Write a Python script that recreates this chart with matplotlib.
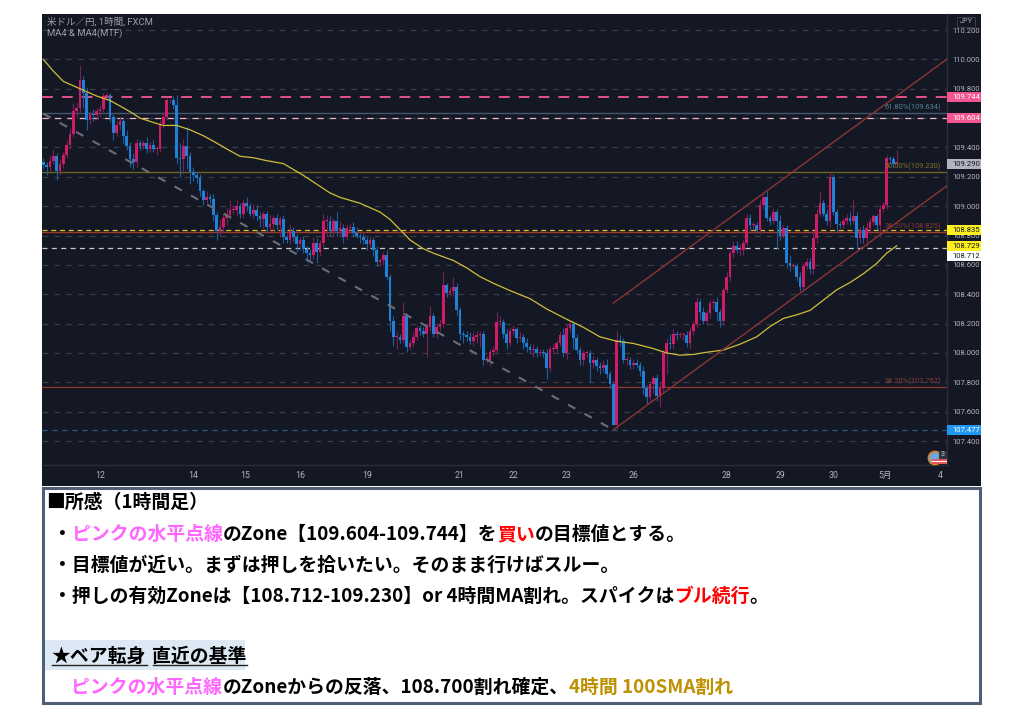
import matplotlib
matplotlib.use("Agg")
import matplotlib.pyplot as plt
from matplotlib.patches import Rectangle, Circle
from matplotlib.ticker import FixedLocator, FixedFormatter

plt.rcParams['font.family'] = ['Roboto', 'Noto Sans CJK JP', 'DejaVu Sans']

first_open = 109.30
closes = [
 109.28,109.27,109.31,109.34,109.24,109.29,109.35,109.42,109.49,109.65,
 109.67,109.86,109.77,109.59,109.63,109.62,109.65,109.66,109.75,109.76,
 109.61,109.50,109.55,109.58,109.48,109.41,109.32,109.30,109.43,109.41,
 109.43,109.39,109.42,109.39,109.39,109.56,109.61,109.72,109.72,109.69,
 109.33,109.32,109.41,109.34,109.23,109.21,109.19,109.10,109.04,109.06,
 109.05,108.94,108.83,108.86,108.92,108.94,108.975,108.975,109.00,108.95,
 109.02,109.00,108.95,108.975,108.93,108.91,108.95,108.86,108.88,108.92,
 108.87,108.91,108.79,108.77,108.83,108.79,108.74,108.77,108.71,108.68,
 108.67,108.75,108.69,108.75,108.90,108.90,108.83,108.90,108.83,108.85,
 108.79,108.85,108.86,108.82,108.80,108.79,108.77,108.74,108.77,108.70,
 108.62,108.63,108.67,108.52,108.22,108.11,108.11,108.09,108.25,108.04,
 108.07,108.11,108.17,108.15,108.13,108.18,108.25,108.13,108.18,108.20,
 108.46,108.41,108.42,108.45,108.29,108.13,108.12,108.11,108.08,108.11,
 108.12,108.13,107.95,107.95,108.01,108.02,108.21,108.21,108.13,108.07,
 108.15,108.16,108.10,108.11,108.07,108.04,108.02,108.03,108.00,108.01,
 108.00,107.90,108.03,108.03,108.07,108.12,108.00,108.17,108.20,108.10,
 108.02,107.95,108.00,108.00,107.93,107.95,107.91,107.90,107.92,107.86,
 107.79,107.51,108.09,108.08,107.95,107.95,107.92,107.93,107.92,107.88,
 107.76,107.70,107.79,107.83,107.71,107.76,108.00,108.07,108.06,108.13,
 108.12,108.12,108.12,108.07,108.15,108.20,108.35,108.28,108.22,108.27,
 108.34,108.35,108.28,108.22,108.43,108.52,108.68,108.73,108.70,108.70,
 108.75,108.92,108.87,108.87,108.84,109.01,109.06,108.92,108.90,108.96,
 108.90,108.80,108.85,108.61,108.59,108.59,108.52,108.45,108.59,108.62,
 108.57,108.78,108.95,109.02,108.95,108.90,109.20,108.96,108.88,108.87,
 108.90,108.92,108.90,108.93,108.78,108.84,108.78,108.85,108.89,108.93,
 108.87,108.98,109.01,109.33,109.32,109.29,109.30]
upper_wick_pips = [
 3,2,4,5,2,3,2,3,4,5, 4,10,3,4,2,3,2,3,2,1, 1,2,3,3,2,4,3,4,3,2,
 2,4,2,3,2,3,3,2,1,3, 7,10,5,13,3,4,2,3,2,4, 2,3,2,5,3,5,7,3,4,2,
 3,4,2,4,3,3,2,2,6,2, 3,2,3,2,4,3,2,2,3,2, 3,4,3,2,5,4,3,2,6,5,
 3,3,2,3,4,2,3,2,3,2, 3,2,2,3,2,3,4,2,10,2, 2,3,2,2,3,2,7,2,2,3,
 9,2,3,7,3,2,2,3,3,3, 3,2,2,3,2,3,7,4,2,3, 3,3,2,3,2,3,2,3,2,2,
 2,3,2,3,2,3,5,3,2,2, 3,2,2,2,2,3,2,3,3,4, 2,2,6,3,2,3,2,3,3,2,
 3,2,2,2,3,4,2,3,6,3, 2,2,2,3,3,2,3,2,3,2, 2,2,3,2,2,3,2,3,3,4,
 2,3,3,2,2,3,2,4,2,3, 2,4,2,2,6,2,2,3,2,3, 3,5,3,8,2,3,3,2,2,2,
 2,3,5,12,3,2,3,4,3,2, 2,3,2,2,1,2,8]
lower_wick_pips = [
 3,6,3,2,6,3,3,2,3,2, 4,3,10,7,3,4,3,4,2,3, 4,5,2,3,5,3,5,5,3,3,
 2,3,2,2,4,2,3,2,2,3, 4,12,10,9,8,4,3,3,3,2, 3,4,6,3,4,5,3,3,4,3,
 3,3,2,3,3,5,6,4,3,5, 3,8,4,2,3,3,5,4,3,6, 5,3,8,3,3,10,3,4,3,3,
 4,2,3,3,2,4,3,4,3,4, 3,3,3,2,7,6,8,2,2,3, 2,3,2,3,2,16,3,2,3,3,
 2,3,2,3,3,4,5,3,2,3, 4,8,3,2,4,3,2,3,3,4, 2,3,3,2,4,3,2,5,3,2,
 3,8,3,2,3,2,3,5,3,7, 2,3,3,3,13,3,3,4,3,3, 3,0,3,3,2,3,3,3,2,4,
 4,5,3,6,4,8,3,14,3,3, 3,2,3,3,4,3,3,5,2,3, 3,4,6,4,3,2,3,3,2,4,
 3,2,3,3,2,3,3,2,3,2, 19,3,2,3,3,2,3,3,2,2, 3,3,3,2,2,3,4,2,6,2,
 2,2,3,2,7,3,3,5,4,2, 3,8,2,3,3,3,2]

ma_bars = [0,3,6,9,12,16,20,24,27,29,33,36,40,44,48,52,55,59,63,67,72,75,78,82,86,89,
           95,101,104,107,110,114,117,123,127,131,135,140,146,151,157,162,167,172,177,
           183,187,191,195,199,204,209,214,218,222,226,230,234,238,242,246,250,253,256]
ma_values = [110.00,109.92,109.85,109.82,109.79,109.75,109.72,109.67,109.63,109.60,109.57,109.55,
             109.55,109.52,109.48,109.43,109.39,109.34,109.33,109.31,109.29,109.25,109.21,109.15,
             109.09,109.06,109.02,108.96,108.91,108.84,108.77,108.71,108.68,108.63,108.58,108.52,
             108.475,108.425,108.37,108.30,108.23,108.175,108.11,108.08,108.065,
             108.03,108.00,107.985,107.99,108.005,108.02,108.06,108.11,108.18,108.235,108.26,
             108.29,108.36,108.43,108.48,108.54,108.61,108.68,108.73]

price_ticks = [110.2,110.0,109.8,109.6,109.4,109.2,109.0,108.8,108.6,108.4,108.2,108.0,107.8,107.6,107.4]
time_ticks = [17,45,60.5,77,97,125,141,157,177,205,221,237,252.5,269]
time_labels = ['12','14','15','16','19','21','22','23','26','28','29','30','5月','4']

BG = '#141824'
UP, DOWN = '#cf1b68', '#1f80d8'
UPW, DOWNW = '#7b1f57', '#1c5f9c'

fig = plt.figure(figsize=(10.24, 7.24), dpi=100, facecolor='white')

under = fig.add_axes([0, 0, 1, 1], zorder=0)
under.set_xlim(0, 1024); under.set_ylim(724, 0); under.axis('off')
under.add_patch(Rectangle((42, 14), 939, 472, fc=BG, ec='none'))

ax = fig.add_axes([42/1024, 1-465/724, 905/1024, 451/724], zorder=1)
ax.set_facecolor('none')
ax.set_xlim(-0.4, 271.1)
ax.set_ylim(107.237, 110.309)
for s in ('top', 'left'):
    ax.spines[s].set_visible(False)
for s in ('right', 'bottom'):
    ax.spines[s].set_color('#2a2e39')
    ax.spines[s].set_linewidth(1)
ax.yaxis.tick_right()
ax.yaxis.set_major_locator(FixedLocator(price_ticks))
ax.yaxis.set_major_formatter(FixedFormatter(['%.3f' % p for p in price_ticks]))
ax.xaxis.set_major_locator(FixedLocator(time_ticks))
ax.xaxis.set_major_formatter(FixedFormatter(time_labels))
ax.tick_params(axis='y', length=0, pad=4, labelsize=5.5, labelcolor='#b2b5be')
ax.tick_params(axis='x', length=0, pad=4, labelsize=6.3, labelcolor='#b2b5be')
ax.grid(axis='y', color='#3b3e49', lw=0.9, ls=(0, (4.5, 5)))
ax.set_axisbelow(True)

# fib and level lines
ax.axhline(109.634, color='#47566a', lw=1, zorder=2)
ax.axhline(109.230, color='#6d6324', lw=1, zorder=2)
ax.axhline(108.825, color='#9b3b30', lw=1, zorder=2)
ax.axhline(107.767, color='#8f3a30', lw=0.9, zorder=2)
ax.axhline(109.744, color='#f4568f', lw=1.3, ls=(0, (6, 5)), zorder=2)
ax.axhline(109.604, color='#f3b4cc', lw=0.9, ls=(0, (5, 5)), zorder=2)
ax.axhline(108.835, color='#e2c02c', lw=0.9, ls=(0, (4, 3)), zorder=2)
ax.axhline(108.712, color='#c9cbd0', lw=0.9, ls=(0, (4, 3.5)), zorder=2)
ax.axhline(107.477, color='#2a5a80', lw=0.9, ls=(0, (4, 4)), zorder=2)

# candles
opens = [first_open] + closes[:-1]
for k, (o, c, uw, lw_) in enumerate(zip(opens, closes, upper_wick_pips, lower_wick_pips)):
    up = c >= o
    hi = max(o, c) + uw / 100
    lo = min(o, c) - lw_ / 100
    ax.plot([k, k], [lo, hi], color=UPW if up else DOWNW, lw=0.8, zorder=3, solid_capstyle='butt')
    ax.bar(k, max(abs(c - o), 0.006), bottom=min(o, c), width=0.8, color=UP if up else DOWN, lw=0, zorder=4)

# moving average and trend lines
ax.plot(ma_bars, ma_values, color='#cdbf3a', lw=0.9, zorder=5)
ax.plot([0, 171], [109.63, 107.477], color='#6b6e78', lw=1.5, ls=(0, (4, 5)), zorder=5)
ax.plot([171, 271], [108.34, 110.00], color='#8c3535', lw=1.0, zorder=5)
ax.plot([171, 271], [107.477, 109.137], color='#8c3535', lw=1.0, zorder=5)

# fib labels
fib_labels = [(109.634, '61.80%(109.634)', '#4f8593'),
              (109.230, '50.00%(109.230)', '#7d7328'),
              (108.825, '38.20%(108.825)', '#8a3a34'),
              (107.767, '38.20%(107.767)', '#8a3a34')]
for p, s, col in fib_labels:
    ax.annotate(s, xy=(1, p), xycoords=ax.get_yaxis_transform(), xytext=(-6, 2), textcoords='offset pixels',
                ha='right', va='bottom', fontsize=5.4, color=col, zorder=6, annotation_clip=False)

over = fig.add_axes([0, 0, 1, 1], zorder=2)
over.set_xlim(0, 1024); over.set_ylim(724, 0); over.axis('off'); over.patch.set_alpha(0)

# price tags (the last one is pushed down, as the platform does to avoid overlap)
tags = [(109.744, '#f2558f', 'white', 0), (109.604, '#f2558f', 'white', 0), (109.290, '#b2b5be', '#131722', 0),
        (108.835, '#fff01f', '#131722', 0), (108.729, '#fff01f', '#131722', 0), (108.712, '#ffffff', '#131722', 7.5),
        (107.477, '#2196f3', 'white', 0)]
for p, fc, tc, dy in tags:
    yp = 724 - ax.transData.transform((0, p))[1] + dy
    over.add_patch(Rectangle((947, yp - 5), 34, 10, fc=fc, ec='none', zorder=4))
    over.text(952.5, yp, '%.3f' % p, fontsize=5.5, color=tc, va='center', ha='left', zorder=5)

over.text(47, 22, '米ドル／円, 1時間, FXCM', fontsize=6.8, color='#9ea1aa', va='center')
over.text(47, 33, 'MA4 & MA4(MTF)', fontsize=6.8, color='#9ea1aa', va='center')
over.add_patch(Rectangle((957, 17), 18, 9.5, fc=BG, ec='#3a3e49', lw=0.7))
over.text(966, 21.8, 'JPY', fontsize=5.3, color='#b2b5be', ha='center', va='center')

# flag badge
over.add_patch(Circle((935, 458), 6.5, fc='#6fa6e0', ec='#d9822b', lw=1.3))
over.add_patch(Rectangle((932, 459), 15, 4.5, fc='#e8545c', ec='none'))
over.add_patch(Rectangle((932, 460.5), 15, 1.3, fc='white', ec='none'))
over.add_patch(Rectangle((939, 450.5), 8, 8, fc='#2f333f', ec='none'))
over.text(943, 454.5, '3', fontsize=5, color='#c8cad0', ha='center', va='center')

# commentary box
over.add_patch(Rectangle((43, 487.5), 937, 215, fc='white', ec='#4f5f7a', lw=2.2, zorder=1))
over.add_patch(Rectangle((44.5, 640), 200, 30, fc='#dce9f5', ec='none', zorder=2))

FS = 13.55
PINK, RED, GOLD, INK = '#ff66ff', '#ff0000', '#bf9000', '#000000'
lines = [
    (46.5, 507.5, [('■所感（1時間足）', INK)]),
    (53, 540, [('・', INK), ('ピンクの水平点線', PINK), ('のZone【109.604-109.744】を', INK), ('買い', RED), ('の目標値とする。', INK)]),
    (53, 571, [('・目標値が近い。まずは押しを拾いたい。そのまま行けばスルー。', INK)]),
    (53, 602, [('・押しの有効Zoneは【108.712-109.230】or 4時間MA割れ。スパイクは', INK), ('ブル続行', RED), ('。', INK)]),
    (71.5, 693, [('ピンクの水平点線', PINK), ('のZoneからの反落、108.700割れ確定、', INK), ('4時間 100SMA割れ', GOLD)]),
]
cjk = ['Noto Sans CJK JP', 'DejaVu Sans']
fig.canvas.draw()
rend = fig.canvas.get_renderer()
for x, y, parts in lines:
    cur = x
    for s, col in parts:
        t = over.text(cur, y, s, fontsize=FS, fontweight='bold', family=cjk, color=col, va='baseline', ha='left', zorder=3)
        cur = t.get_window_extent(rend).x1

for x, s, x0, x1 in [(51, '★ベア転身', 52, 147), (152, '直近の基準', 153, 247)]:
    over.text(x, 662, s, fontsize=FS, fontweight='bold', family=cjk, color=INK, va='baseline', ha='left', zorder=3)
    over.plot([x0, x1], [664.5, 664.5], color='#222222', lw=1, zorder=3)

fig.savefig('out.png', dpi=100, facecolor='white')
